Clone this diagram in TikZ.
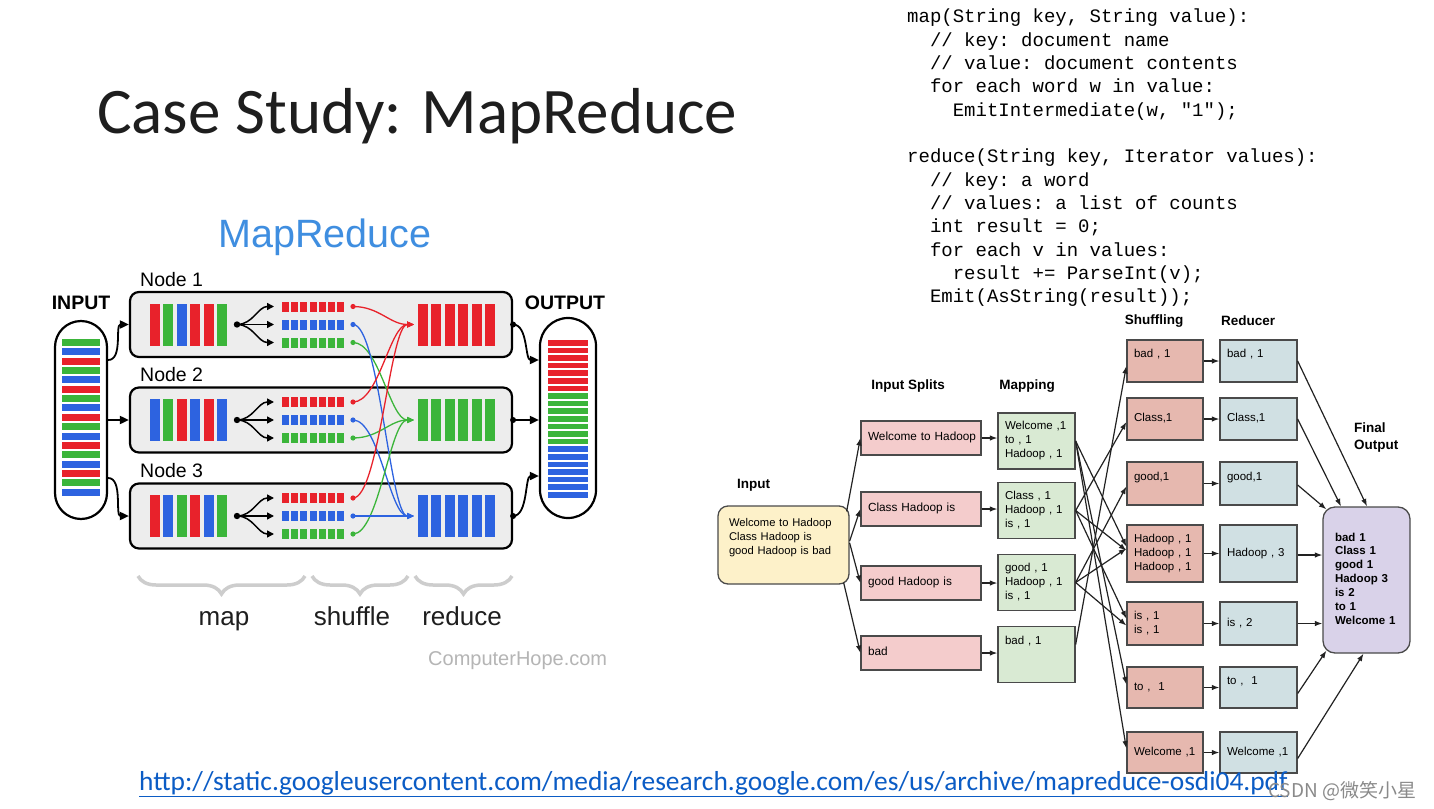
\documentclass[tikz,border=0pt]{standalone}
\usepackage{fontspec}
\setmainfont{Liberation Sans}
\newfontfamily\calib{Carlito}
\newfontfamily\monof{Liberation Mono}
\newfontfamily\cjkf{Noto Sans CJK SC}
\usetikzlibrary{arrows.meta,calc,decorations.pathreplacing}
\definecolor{mrred}{HTML}{E8222B}
\definecolor{mrgreen}{HTML}{3BB53A}
\definecolor{mrblue}{HTML}{2D63E0}
\definecolor{mrtitle}{HTML}{3F8EE0}
\definecolor{nodefill}{HTML}{EDEDED}
\definecolor{bracegray}{HTML}{CDCDCD}
\definecolor{hopegray}{HTML}{B5B5B5}
\definecolor{titlec}{HTML}{1E1E1E}
\definecolor{splitfill}{HTML}{F4CCCC}
\definecolor{mapfill}{HTML}{D9EAD3}
\definecolor{shuffill}{HTML}{E6B8AF}
\definecolor{redfill}{HTML}{D0E0E3}
\definecolor{finfill}{HTML}{D9D2E9}
\definecolor{infill}{HTML}{FDF1C9}
\definecolor{boxline}{HTML}{4A4A4A}
\definecolor{arrowc}{HTML}{222222}
\definecolor{urlblue}{HTML}{0B5CC5}
\definecolor{wmgray}{HTML}{8A8A8A}
\newcommand\fsz[2]{\fontsize{#1}{#2}\selectfont}
\newcommand\boxtxt[2][0pt]{\raisebox{#1}[\height][\depth]{\begin{tabular}{@{}l@{}}#2\end{tabular}}}
\begin{document}
\begin{tikzpicture}[x=1pt,y=-1pt,
  blk/.style={line width=1.8pt,-{Triangle[length=9pt,width=8pt]}},
  fan/.style={line width=1.5pt,-{Triangle[length=7pt,width=7pt]}},
  shuf/.style={line width=1.3pt,-{Triangle[length=7pt,width=6pt]}},
  nbox/.style={draw,line width=2.2pt,rounded corners=9pt,fill=nodefill,minimum width=382pt,minimum height=65pt,inner sep=0},
  pill/.style={draw,line width=2.2pt,fill=white,inner sep=0},
  lbl/.style={font=\fsz{19.5}{22}},
  blbl/.style={font=\bfseries\fsz{19.5}{22}},
  brc/.style={decorate,decoration={brace,mirror,amplitude=18pt,aspect=0.5},line width=3.5pt,draw=bracegray},
  code/.style={anchor=base west,inner sep=0,font=\monof\fsz{19}{23}\frenchspacing},
  rb/.style={draw=boxline,line width=1.3pt,inner ysep=0,inner xsep=7pt,align=left,font=\fsz{11.5}{14}},
  spl/.style={rb,fill=splitfill,text width=106pt,minimum height=34pt,font=\fsz{11.8}{14}},
  mp/.style={rb,fill=mapfill,text width=63pt,minimum height=56pt},
  sh/.style={rb,fill=shuffill,text width=62pt},
  rd/.style={rb,fill=redfill,text width=63pt},
  rar/.style={line width=1.2pt,draw=arrowc,-{Latex[length=7.5pt,width=5.5pt]}},
  hdr/.style={font=\bfseries\fsz{13.5}{17},inner sep=0}
]
\useasboundingbox (0,0) rectangle (1434,808);
\fill[white] (0,0) rectangle (1434,808);

% ---------- title ----------
\node[anchor=base west,inner sep=0,font=\calib\fsz{65}{70},text=titlec] (title) at (97,133) {Case Study: MapReduce};

% ---------- code ----------
\node[code] (c1) at (907,23) {map(String key, String value):};
\node[code] (c2) at (929.8,46.3) {// key: document name};
\node[code] (c3) at (929.8,69.6) {// value: document contents};
\node[code] (c4) at (929.8,92.9) {for each word w in value:};
\node[code] (c5) at (952.6,116.2) {EmitIntermediate(w, "1");};
\node[code] (c6) at (907,162.8) {reduce(String key, Iterator values):};
\node[code] (c7) at (929.8,186.1) {// key: a word};
\node[code] (c8) at (929.8,209.4) {// values: a list of counts};
\node[code] (c9) at (929.8,232.7) {int result = 0;};
\node[code] (c10) at (929.8,256) {for each v in values:};
\node[code] (c11) at (952.6,279.3) {result += ParseInt(v);};
\node[code] (c12) at (929.8,302.6) {Emit(AsString(result));};

% ---------- left MapReduce diagram ----------
\node[font=\fsz{39.5}{42},text=mrtitle,inner sep=0] (mrt) at (325,237) {MapReduce};
\node[blbl,inner sep=0] (inlab) at (81,303) {INPUT};
\node[blbl,inner sep=0] (outlab) at (565,303) {OUTPUT};
\node[pill,rounded corners=26pt,minimum width=52pt,minimum height=198pt] (inp) at (81,420) {};
\node[pill,rounded corners=28pt,minimum width=56pt,minimum height=200pt] (outp) at (568,418) {};
\foreach \i/\c in {0/mrgreen,1/mrblue,2/mrred,3/mrgreen,4/mrblue,5/mrred,6/mrgreen,7/mrblue,8/mrred,9/mrgreen,10/mrblue,11/mrred,12/mrgreen,13/mrblue,14/mrred,15/mrgreen,16/mrblue}
  \fill[fill=\c] (62,{339+9.35*\i}) rectangle ++(38,7);
\foreach \i/\c in {0/mrred,1/mrred,2/mrred,3/mrred,4/mrred,5/mrred,6/mrred,7/mrgreen,8/mrgreen,9/mrgreen,10/mrgreen,11/mrgreen,12/mrgreen,13/mrgreen,14/mrblue,15/mrblue,16/mrblue,17/mrblue,18/mrblue,19/mrblue,20/mrblue}
  \fill[fill=\c] (548,{340+7.6*\i}) rectangle ++(40,5.6);

\foreach \i/\cy/\ca/\cb/\cc/\cd/\ce/\cf/\cr in {
  1/324.5/mrred/mrgreen/mrblue/mrred/mrred/mrgreen/mrred,
  2/420/mrblue/mrgreen/mrred/mrblue/mrred/mrblue/mrgreen,
  3/516/mrred/mrblue/mrgreen/mrred/mrblue/mrgreen/mrblue}{
  \node[nbox] (n\i) at (321,\cy) {};
  \node[lbl,anchor=base west,inner sep=0] (nl\i) at (140,\cy-38.5) {Node \i};
  \foreach \k/\c in {0/\ca,1/\cb,2/\cc,3/\cd,4/\ce,5/\cf}
    \fill[fill=\c] ({150+13.4*\k},\cy-21) rectangle ++(10,42);
  \foreach \k in {0,...,5}
    \fill[fill=\cr] ({418+13.4*\k},\cy-21) rectangle ++(10,42);
  \foreach \k in {0,...,6}{
    \fill[mrred] ({282+9.2*\k},\cy-23) rectangle ++(7,10);
    \fill[mrblue] ({282+9.2*\k},\cy-5) rectangle ++(7,10);
    \fill[mrgreen] ({282+9.2*\k},\cy+13) rectangle ++(7,10);
  }
  \coordinate (dot\i) at (237,\cy);
  \coordinate (fa\i) at (274,\cy-18);
  \coordinate (fb\i) at (274,\cy);
  \coordinate (fc\i) at (274,\cy+18);
  \draw[fan] (dot\i) .. controls +(16,0) and +(-16,0) .. (fa\i);
  \draw[fan] (dot\i) -- (fb\i);
  \draw[fan] (dot\i) .. controls +(16,0) and +(-16,0) .. (fc\i);
  \fill (dot\i) circle (3.2);
  \coordinate (rr\i) at (353,\cy-18);
  \coordinate (bb\i) at (353,\cy);
  \coordinate (gg\i) at (353,\cy+18);
  \fill (n\i.east) circle (3);
}
\coordinate (tr) at (414,324.5);
\coordinate (tg) at (414,420);
\coordinate (tb) at (414,516);
\foreach \i in {1,2,3}{
  \draw[shuf,mrred] (rr\i) .. controls +(26,0) and +(-24,0) .. (tr);
  \draw[shuf,mrgreen] (gg\i) .. controls +(26,0) and +(-24,0) .. (tg);
  \draw[shuf,mrblue] (bb\i) .. controls +(26,0) and +(-24,0) .. (tb);
  \fill[mrred] (rr\i) circle (2.6);
  \fill[mrblue] (bb\i) circle (2.6);
  \fill[mrgreen] (gg\i) circle (2.6);
}
% input/output arrows
\draw[blk] ($(inp.east)+(0,-60)$) .. controls +(15,0) and +(-14,0) .. (n1.west);
\draw[blk] (inp.east) -- (n2.west);
\draw[blk] ($(inp.east)+(0,58)$) .. controls +(15,0) and +(-14,0) .. (n3.west);
\draw[blk] (n1.east) .. controls +(15,0) and +(-14,0) .. ($(outp.west)+(0,-58)$);
\draw[blk] (n2.east) -- (n2.east -| outp.west);
\draw[blk] (n3.east) .. controls +(15,0) and +(-14,0) .. ($(outp.west)+(0,58)$);

% braces and labels
\draw[brc] (138,576) -- (305,576);
\draw[brc] (312,576) -- (408,576);
\draw[brc] (415,576) -- (512,576);
\node[anchor=base,inner sep=0,font=\fsz{26}{28},text=titlec] (lmap) at (224,625) {map};
\node[anchor=base,inner sep=0,font=\fsz{26}{28},text=titlec] (lshuf) at (352,625) {shuffle};
\node[anchor=base,inner sep=0,font=\fsz{26}{28},text=titlec] (lred) at (462,625) {reduce};
\node[anchor=base west,inner sep=0,font=\fsz{20}{22},text=hopegray] (hope) at (428,665) {ComputerHope.com};

% ---------- right Hadoop diagram ----------
\node[hdr,anchor=west] (hin) at (737,485) {Input};
\node[hdr] (hsp) at (908,386) {Input Splits};
\node[hdr] (hmp) at (1027,386) {Mapping};
\node[hdr] (hsh) at (1154,321) {Shuffling};
\node[hdr] (hrd) at (1248,321) {Reducer};
\node[hdr,align=left,anchor=north west] (hfo) at (1354,423) {Final\\Output};

\node[rb,fill=infill,rounded corners=10pt,inner xsep=11pt,text width=109pt,minimum height=78pt,font=\fsz{11.2}{14}] (inb) at (783.5,545)
  {\boxtxt[7pt]{Welcome to Hadoop\\Class Hadoop is\\good Hadoop is bad}};

\node[spl] (sp1) at (921,438) {\boxtxt{Welcome to Hadoop}};
\node[spl] (sp2) at (921,509) {\boxtxt{Class Hadoop is}};
\node[spl] (sp3) at (921,583) {\boxtxt{good Hadoop is}};
\node[spl] (sp4) at (921,653) {\boxtxt{bad}};

\node[mp] (m1) at (1036.5,441) {\boxtxt{Welcome ,1\\to , 1\\Hadoop , 1}};
\node[mp] (m2) at (1036.5,510.5) {\boxtxt{Class , 1\\Hadoop , 1\\is , 1}};
\node[mp] (m3) at (1036.5,582.5) {\boxtxt{good , 1\\Hadoop , 1\\is , 1}};
\node[mp] (m4) at (1036.5,654.5) {\boxtxt[13pt]{bad , 1}};

\node[sh,minimum height=42pt] (s1) at (1165,361) {\boxtxt[6pt]{bad , 1}};
\node[sh,minimum height=42pt] (s2) at (1165,419) {\boxtxt{Class,1}};
\node[sh,minimum height=43pt] (s3) at (1165,483.5) {\boxtxt[6pt]{good,1}};
\node[sh,minimum height=57pt] (s4) at (1165,553.5) {\boxtxt{Hadoop , 1\\Hadoop , 1\\Hadoop , 1}};
\node[sh,minimum height=43pt] (s5) at (1165,623.5) {\boxtxt{is , 1\\is , 1}};
\node[sh,minimum height=41pt] (s6) at (1165,687.5) {\boxtxt{to ,\ \ 1}};
\node[sh,minimum height=41pt] (s7) at (1165,752.5) {\boxtxt{Welcome ,1}};

\node[rd,minimum height=42pt] (r1) at (1258.5,361) {\boxtxt[6pt]{bad , 1}};
\node[rd,minimum height=42pt] (r2) at (1258.5,419) {\boxtxt{Class,1}};
\node[rd,minimum height=43pt] (r3) at (1258.5,483.5) {\boxtxt[6pt]{good,1}};
\node[rd,minimum height=57pt] (r4) at (1258.5,553.5) {\boxtxt{Hadoop , 3}};
\node[rd,minimum height=43pt] (r5) at (1258.5,623.5) {\boxtxt{is , 2}};
\node[rd,minimum height=41pt] (r6) at (1258.5,687.5) {\boxtxt[6pt]{to ,\ \ 1}};
\node[rd,minimum height=41pt] (r7) at (1258.5,752.5) {\boxtxt{Welcome ,1}};

\node[rb,fill=finfill,rounded corners=12pt,inner xsep=12pt,text width=63pt,minimum height=146pt,font=\bfseries\fsz{11.5}{13.9}] (fin) at (1366.5,580)
  {\boxtxt{bad 1\\Class 1\\good 1\\Hadoop 3\\is 2\\to 1\\Welcome 1}};

% input -> splits
\draw[rar] ($(inb.north east)+(-3,6)$) -- (sp1.west);
\draw[rar] ($(inb.east)+(0,-4)$) -- (sp2.west);
\draw[rar] ($(inb.east)+(0,-2)$) -- (sp3.west);
\draw[rar] ($(inb.south east)+(-6,-2)$) -- (sp4.west);
% splits -> mapping
\foreach \i in {1,2,3,4}
  \draw[rar] (sp\i.east) -- (sp\i.east -| m\i.west);
% mapping -> shuffling
\draw[rar] (m1.east) -- ($(s4.west)+(0,-7)$);
\draw[rar] (m1.east) -- ($(s6.west)+(0,-3)$);
\draw[rar] (m1.east) -- ($(s7.west)+(0,-4)$);
\draw[rar] (m2.east) -- ($(s2.west)+(0,3)$);
\draw[rar] (m2.east) -- ($(s4.west)+(0,-3)$);
\draw[rar] (m2.east) -- ($(s5.west)+(0,-5)$);
\draw[rar] (m3.east) -- ($(s3.west)+(0,3)$);
\draw[rar] (m3.east) -- ($(s4.west)+(0,-5)$);
\draw[rar] (m3.east) -- ($(s5.west)+(0,2)$);
\draw[rar] ($(m4.east)+(0,-10)$) -- ($(s1.west)+(0,5)$);
% shuffling -> reducer
\foreach \i in {1,...,7}
  \draw[rar] (s\i.east) -- (r\i.west);
% reducer -> final
\draw[rar] (r1.east) -- ($(fin.north)+(0.5,0)$);
\draw[rar] (r2.east) -- ($(fin.north)+(-25.5,0)$);
\draw[rar] ($(r3.east)+(0,1.5)$) -- ($(fin.north west)+(4,3)$);
\draw[rar] ($(r4.east)+(0,1.5)$) -- ($(fin.west)+(0,-25)$);
\draw[rar] (r5.east) -- ($(fin.west)+(0,43.5)$);
\draw[rar] ($(r6.east)+(0,6)$) -- ($(fin.south west)+(4,-3)$);
\draw[rar] ($(r7.east)+(0,6)$) -- ($(fin.south)+(-3,0)$);

% ---------- URL and watermark ----------
\node[anchor=base west,inner sep=0,font=\calib\fsz{27.4}{30},text=urlblue] (url) at (139,790)
  {\underline{http://static.googleusercontent.com/media/research.google.com/es/us/archive/mapreduce-osdi04.pdf}};
\node[anchor=base west,inner sep=0,font=\cjkf\fsz{19}{21},text=wmgray] (wm) at (1268,797) {CSDN @微笑小星};
\end{tikzpicture}
\end{document}
